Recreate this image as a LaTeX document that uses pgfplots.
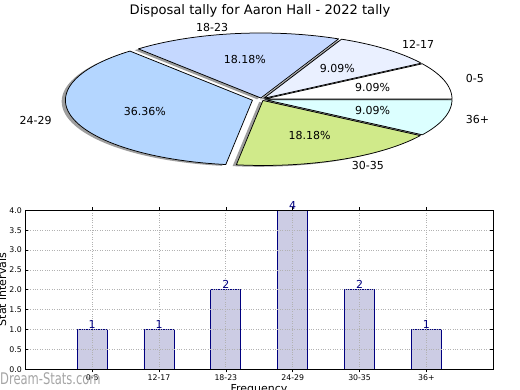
\documentclass[border=0pt]{standalone}
\usepackage{fontspec}
\setmainfont{DejaVu Sans}
\usepackage{pgfplots}
\pgfplotsset{compat=1.18}
\usepackage{pgfplotstable}

\definecolor{cA}{RGB}{255,255,255}
\definecolor{cB}{RGB}{234,240,255}
\definecolor{cC}{RGB}{197,216,255}
\definecolor{cD}{RGB}{180,214,255}
\definecolor{cE}{RGB}{208,234,138}
\definecolor{cF}{RGB}{220,255,255}
\definecolor{barfill}{RGB}{204,204,228}
\definecolor{navy}{RGB}{0,0,128}
\definecolor{wm}{RGB}{165,165,165}

% tally: position, label, count
\pgfplotstableread{
x label count
1 0-5 1
2 12-17 1
3 18-23 2
4 24-29 4
5 30-35 2
6 36+ 1
}\tally

% pie wedge: #1 cumulative start count, #2 cumulative end count (of 11), #3 dx, #4 dy (explode), #5 colour
\newcommand{\pieslice}[5]{%
  \addplot[fill=#5, draw=black, line width=0.75pt, line join=round,
    domain={#1*360/11}:{#2*360/11}, samples=70, variable=\t]
  ({#3+cos(\t)},{#4+sin(\t)}) -- (axis cs:#3,#4) -- cycle;}
\newcommand{\pieshadow}[4]{%
  \addplot[fill=black, fill opacity=0.38, draw=none,
    domain={#1*360/11}:{#2*360/11}, samples=70, variable=\t]
  ({#3+cos(\t)},{#4+sin(\t)}) -- (axis cs:#3,#4) -- cycle;}

\newcommand{\lbl}{\fontsize{11}{13}\selectfont}

\begin{document}
\begin{tikzpicture}
\useasboundingbox (0pt,0pt) rectangle (520pt,390pt);

\node[anchor=base, font=\fontsize{13.1}{15}\selectfont] at (260pt,375.5pt)
  {Disposal tally for Aaron Hall - 2022 tally};

% ---------- pie ----------
\begin{axis}[at={(261.4pt,290.7pt)}, anchor=origin, x=187pt, y=65pt,
  xmin=-1.25, xmax=1.25, ymin=-1.2, ymax=1.2, hide axis, clip=false]
  % shadows (offset -0.02,-0.02)
  \pieshadow{0}{1}{-0.0008}{-0.0144}
  \pieshadow{1}{2}{-0.0069}{-0.0049}
  \pieshadow{2}{4}{-0.0228}{-0.0002}
  \pieshadow{4}{8}{-0.0680}{-0.0341}
  \pieshadow{8}{10}{-0.0117}{-0.0382}
  \pieshadow{10}{11}{-0.0008}{-0.0256}
  % wedges
  \pieslice{0}{1}{0.0192}{0.0056}{cA}
  \pieslice{1}{2}{0.0131}{0.0151}{cB}
  \pieslice{2}{4}{-0.0028}{0.0198}{cC}
  \pieslice{4}{8}{-0.0480}{-0.0141}{cD}
  \pieslice{8}{10}{0.0083}{-0.0182}{cE}
  \pieslice{10}{11}{0.0192}{-0.0056}{cF}
  % labels
  \node[anchor=west, font=\lbl] at (axis cs:1.0747,0.3155) {0-5};
  \node[anchor=west, font=\lbl] at (axis cs:0.7335,0.8464) {12-17};
  \node[anchor=east, font=\lbl] at (axis cs:-0.1593,1.1086) {18-23};
  \node[anchor=east, font=\lbl] at (axis cs:-1.1035,-0.3240) {24-29};
  \node[anchor=west, font=\lbl] at (axis cs:0.4652,-1.0188) {30-35};
  \node[anchor=west, font=\lbl] at (axis cs:1.0747,-0.3155) {36+};
  % percentages
  \node[font=\lbl] at (axis cs:0.5949,0.1746) {9.09\%};
  \node[font=\lbl] at (axis cs:0.4060,0.4685) {9.09\%};
  \node[font=\lbl] at (axis cs:-0.0882,0.6137) {18.18\%};
  \node[font=\lbl] at (axis cs:-0.6237,-0.1831) {36.36\%};
  \node[font=\lbl] at (axis cs:0.2575,-0.5640) {18.18\%};
  \node[font=\lbl] at (axis cs:0.5949,-0.1746) {9.09\%};
\end{axis}

% ---------- bars ----------
\begin{axis}[at={(25.3pt,20.7pt)}, anchor=south west, scale only axis,
  width=468pt, height=159pt,
  xmin=0, xmax=7, ymin=0, ymax=4,
  xtick={1,...,6}, xticklabels={0-5,12-17,18-23,24-29,30-35,36+},
  ytick={0,0.5,...,4},
  yticklabel style={/pgf/number format/.cd, fixed, fixed zerofill, precision=1},
  /pgf/number format/assume math mode=true,
  tick label style={font=\fontsize{7.8}{9}\selectfont},
  xticklabel style={yshift=1pt},
  grid=major, grid style={dotted, gray!60, line width=0.8pt},
  axis on top, axis line style={black, line width=0.9pt},
  tick style={black, line width=0.6pt}, major tick length=3pt, tick align=inside,
  ybar, bar width=0.45, clip=false,
  nodes near coords,
  nodes near coords style={navy, font=\fontsize{11}{12}\selectfont, inner sep=0.5pt, anchor=south},
]
  \addplot[fill=barfill, draw=navy, line width=0.9pt] table[x=x, y=count] {\tally};
\end{axis}

\node[rotate=90, anchor=base, font=\lbl] at (6pt,100.5pt) {Stat intervals};
\node[anchor=base, font=\lbl] at (259pt,-2.1pt) {Frequency};
\node[anchor=base west, font=\fontsize{16}{18}\selectfont, text=wm, xscale=0.72, inner sep=0pt] at (0pt,5pt) {Dream-Stats.com};
\end{tikzpicture}
\end{document}
